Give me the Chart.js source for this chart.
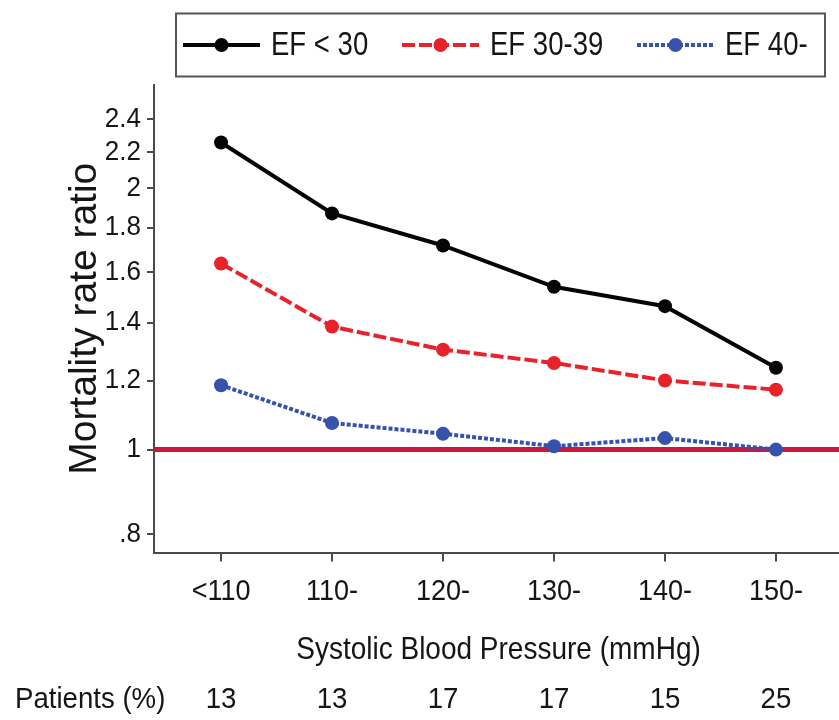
<!DOCTYPE html>
<html>
<head>
<meta charset="utf-8">
<script src="https://cdn.jsdelivr.net/npm/chart.js@4.4.1/dist/chart.umd.min.js"></script>
<style>
  html, body { margin: 0; padding: 0; background: #ffffff; }
  #wrap { width: 839px; height: 720px; position: relative; }
</style>
</head>
<body>
<div id="wrap"><canvas id="chart" width="839" height="720"></canvas></div>
<script>
// Systolic blood pressure groups and share of patients in each
const categories = ['<110', '110-', '120-', '130-', '140-', '150-'];
const patientsPct = [13, 13, 17, 17, 15, 25];

// Mortality rate ratio by ejection fraction group
const efBelow30 = [2.255, 1.869, 1.717, 1.539, 1.462, 1.242];
const ef30to39  = [1.637, 1.385, 1.303, 1.258, 1.201, 1.172];
const ef40plus  = [1.186, 1.073, 1.043, 1.009, 1.031, 1.000];

const seriesLabels = ['EF < 30', 'EF 30-39', 'EF 40-'];
const yTicks = [0.8, 1, 1.2, 1.4, 1.6, 1.8, 2, 2.2, 2.4];
const referenceRatio = 1;

const SANS = "'Liberation Sans', Arial, sans-serif";
const TEXT = '#151515';
const AXIS = '#4a4a4a';

const X_MIN = -0.604, X_MAX = 5.568;

const styles = [
  { color: '#050505', dash: [] },
  { color: '#e8222b', dash: [13, 4] },
  { color: '#3552ad', dash: [4, 2] }
];

function toPoints(arr) { return arr.map((v, i) => ({ x: i, y: v })); }

function yLabel(v) { return v < 1 ? String(v).replace(/^0/, '') : String(v); }

// Condensed text: Liberation Sans squeezed horizontally
function narrowText(ctx, text, x, y, size, sx, align) {
  ctx.save();
  ctx.translate(x, y);
  ctx.scale(sx, 1);
  ctx.font = size + 'px ' + SANS;
  ctx.textAlign = align;
  ctx.textBaseline = 'middle';
  ctx.fillStyle = TEXT;
  ctx.fillText(text, 0, 0);
  ctx.restore();
}

function seriesDataset(label, values, s) {
  return {
    label: label,
    data: toPoints(values),
    borderColor: s.color,
    backgroundColor: s.color,
    borderWidth: 4,
    borderDash: s.dash,
    pointRadius: 7,
    pointHoverRadius: 7,
    pointBorderWidth: 0,
    pointBackgroundColor: s.color,
    tension: 0,
    fill: false
  };
}

// Tick labels, axis title and patient row in condensed lettering
const axisText = {
  id: 'axisText',
  afterDraw(chart) {
    const ctx = chart.ctx;
    const xs = chart.scales.x, ys = chart.scales.y;
    const area = chart.chartArea;
    xs.ticks.forEach(t => {
      narrowText(ctx, categories[t.value], xs.getPixelForValue(t.value), 592, 30, 0.9, 'center');
    });
    ys.ticks.forEach(t => {
      narrowText(ctx, yLabel(t.value), 141, ys.getPixelForValue(t.value), 28, 0.93, 'right');
    });
    narrowText(ctx, 'Systolic Blood Pressure (mmHg)', (area.left + area.right) / 2 + 2, 650, 32, 0.875, 'center');
    narrowText(ctx, 'Patients (%)', 15, 700, 30, 0.92, 'left');
    patientsPct.forEach((p, i) => {
      narrowText(ctx, String(p), xs.getPixelForValue(i), 700, 30, 0.92, 'center');
    });
  }
};

// Legend box with line + marker samples
const legendBox = {
  id: 'legendBox',
  afterDraw(chart) {
    const ctx = chart.ctx;
    ctx.save();
    ctx.lineWidth = 2;
    ctx.strokeStyle = '#555555';
    ctx.strokeRect(176, 13.5, 649, 63);
    ctx.restore();
    const y = 45;
    const sampleStarts = [183, 402, 637];
    seriesLabels.forEach((lab, i) => {
      const s = styles[i];
      const x = sampleStarts[i];
      ctx.save();
      ctx.strokeStyle = s.color;
      ctx.lineWidth = 4;
      ctx.setLineDash(s.dash);
      ctx.beginPath();
      ctx.moveTo(x, y);
      ctx.lineTo(x + 77, y);
      ctx.stroke();
      ctx.setLineDash([]);
      ctx.fillStyle = s.color;
      ctx.beginPath();
      ctx.arc(x + 38.5, y, 7, 0, Math.PI * 2);
      ctx.fill();
      ctx.restore();
      narrowText(ctx, lab, x + 88, y + 1, 34, 0.81, 'left');
    });
  }
};

new Chart(document.getElementById('chart'), {
  type: 'line',
  data: {
    datasets: [
      seriesDataset(seriesLabels[0], efBelow30, styles[0]),
      seriesDataset(seriesLabels[1], ef30to39, styles[1]),
      seriesDataset(seriesLabels[2], ef40plus, styles[2]),
      {
        label: 'reference',
        data: [{ x: X_MIN, y: referenceRatio }, { x: X_MAX, y: referenceRatio }],
        borderColor: '#c8183c',
        borderWidth: 5,
        pointRadius: 0,
        pointHoverRadius: 0,
        tension: 0,
        fill: false
      }
    ]
  },
  options: {
    responsive: false,
    animation: false,
    devicePixelRatio: 1,
    layout: { autoPadding: false, padding: { top: 85, right: 0, bottom: 0, left: 0 } },
    plugins: {
      legend: { display: false },
      tooltip: { enabled: false },
      title: { display: false }
    },
    scales: {
      x: {
        type: 'linear',
        min: X_MIN,
        max: X_MAX,
        afterBuildTicks: (s) => { s.ticks = categories.map((_, i) => ({ value: i })); },
        afterFit: (s) => { s.height = 167.5; },
        ticks: { display: false },
        grid: { drawOnChartArea: false, drawTicks: true, tickLength: 9, color: AXIS, lineWidth: 2 },
        border: { display: true, color: AXIS, width: 2 },
        title: { display: false }
      },
      y: {
        type: 'logarithmic',
        min: 0.7615,
        max: 2.626,
        afterBuildTicks: (s) => { s.ticks = yTicks.map(v => ({ value: v })); },
        afterFit: (s) => { s.width = 154; },
        ticks: { display: false },
        grid: { drawOnChartArea: false, drawTicks: true, tickLength: 7, color: AXIS, lineWidth: 2 },
        border: { display: true, color: AXIS, width: 2 },
        title: {
          display: true,
          text: 'Mortality rate ratio',
          font: { family: SANS, size: 39 },
          color: TEXT,
          padding: { top: 62, bottom: 0 }
        }
      }
    }
  },
  plugins: [legendBox, axisText]
});
</script>
</body>
</html>
